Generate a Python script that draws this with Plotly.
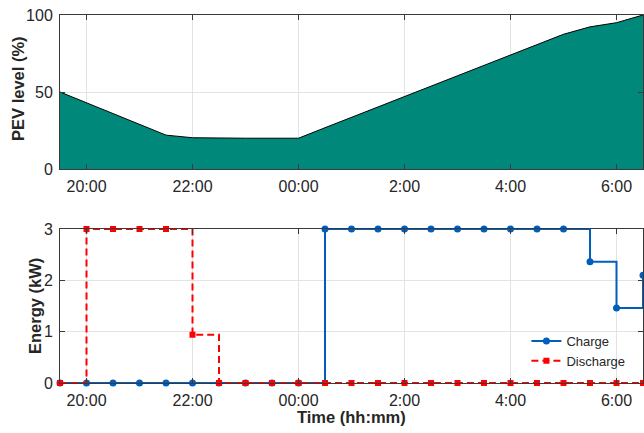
import numpy as np
import plotly.graph_objects as go
from plotly.subplots import make_subplots

# Half-hourly schedule from 19:30 to 06:30 (hours counted from the first midnight)
time_hours = np.arange(19.5, 31.0, 0.5)

# Battery state of charge (%)
pev_level = [50, 43, 36, 29, 22, 20.3, 20, 20, 20, 20,
             26.8, 33.6, 40.4, 47.2, 54.0, 60.8, 67.6, 74.4, 81.2, 87.5,
             92.3, 95.0, 100]

# Charging / discharging power (kW) held over each half hour
charge = [0, 0, 0, 0, 0, 0, 0, 0, 0, 0,
          3, 3, 3, 3, 3, 3, 3, 3, 3, 3,
          2.36, 1.46, 2.1]
discharge = [0, 3, 3, 3, 3, 0.94, 0, 0, 0, 0,
             0, 0, 0, 0, 0, 0, 0, 0, 0, 0,
             0, 0, 0]

tick_hours = [20, 22, 24, 26, 28, 30]
tick_text = ["20:00", "22:00", "00:00", "2:00", "4:00", "6:00"]

FONT = "Arial, Liberation Sans, Helvetica, sans-serif"
AXIS_COLOR = "#3a3a3a"
GRID_COLOR = "#e3e3e3"
TEAL = "rgb(0,137,123)"
BLUE = "rgb(0,94,188)"
RED = "rgb(255,0,0)"

fig = make_subplots(rows=2, cols=1, vertical_spacing=0.163)

fig.add_trace(go.Scatter(
    x=time_hours, y=pev_level, mode="lines", fill="tozeroy",
    fillcolor=TEAL, line=dict(color="black", width=1),
    showlegend=False, hoverinfo="skip"), row=1, col=1)

fig.add_trace(go.Scatter(
    x=time_hours, y=charge, name="Charge", mode="lines+markers",
    line=dict(color=BLUE, width=2, shape="hv"),
    marker=dict(symbol="circle", size=7, color=BLUE),
    cliponaxis=False), row=2, col=1)

fig.add_trace(go.Scatter(
    x=time_hours, y=discharge, name="Discharge", mode="lines+markers",
    line=dict(color=RED, width=2, shape="hv", dash="7px,4px"),
    marker=dict(symbol="square", size=6, color=RED),
    cliponaxis=False), row=2, col=1)

axis_common = dict(
    showline=True, linecolor=AXIS_COLOR, linewidth=1, mirror="ticks",
    ticks="inside", ticklen=5, tickcolor=AXIS_COLOR,
    showgrid=True, gridcolor=GRID_COLOR, gridwidth=1, zeroline=False,
    tickfont=dict(family=FONT, size=16, color="#262626"),
)

for r in (1, 2):
    fig.update_xaxes(range=[19.5, 30.5], tickvals=tick_hours, ticktext=tick_text,
                     ticklabelstandoff=3, **axis_common, row=r, col=1)

fig.update_yaxes(range=[0, 100], tickvals=[0, 50, 100], ticklabelstandoff=3,
                 **axis_common, row=1, col=1)
fig.update_yaxes(range=[0, 3], tickvals=[0, 1, 2, 3], ticklabelstandoff=3,
                 **axis_common, row=2, col=1)

title_font = dict(family=FONT, size=16.5, color="#262626")
fig.add_annotation(text="<b>PEV level (%)</b>", textangle=-90, showarrow=False,
                   xref="paper", yref="y domain", x=0, y=0.52,
                   xanchor="center", yanchor="middle", xshift=-42, font=title_font)
fig.add_annotation(text="<b>Energy (kW)</b>", textangle=-90, showarrow=False,
                   xref="paper", yref="y2 domain", x=0, y=0.5,
                   xanchor="center", yanchor="middle", xshift=-25, font=title_font)
fig.add_annotation(text="<b>Time (hh:mm)</b>", showarrow=False,
                   xref="paper", yref="paper", x=0.5, y=0,
                   xanchor="center", yanchor="middle", yshift=-34, font=title_font)

fig.update_layout(
    width=644, height=433,
    margin=dict(l=60, r=1, t=15, b=50),
    plot_bgcolor="white", paper_bgcolor="white",
    font=dict(family=FONT, color="#262626"),
    legend=dict(x=0.80, y=0.155, xanchor="left", yanchor="top",
                bgcolor="rgba(0,0,0,0)", font=dict(family=FONT, size=13, color="#262626"),
                tracegroupgap=0),
)

fig.write_html("out.html")
